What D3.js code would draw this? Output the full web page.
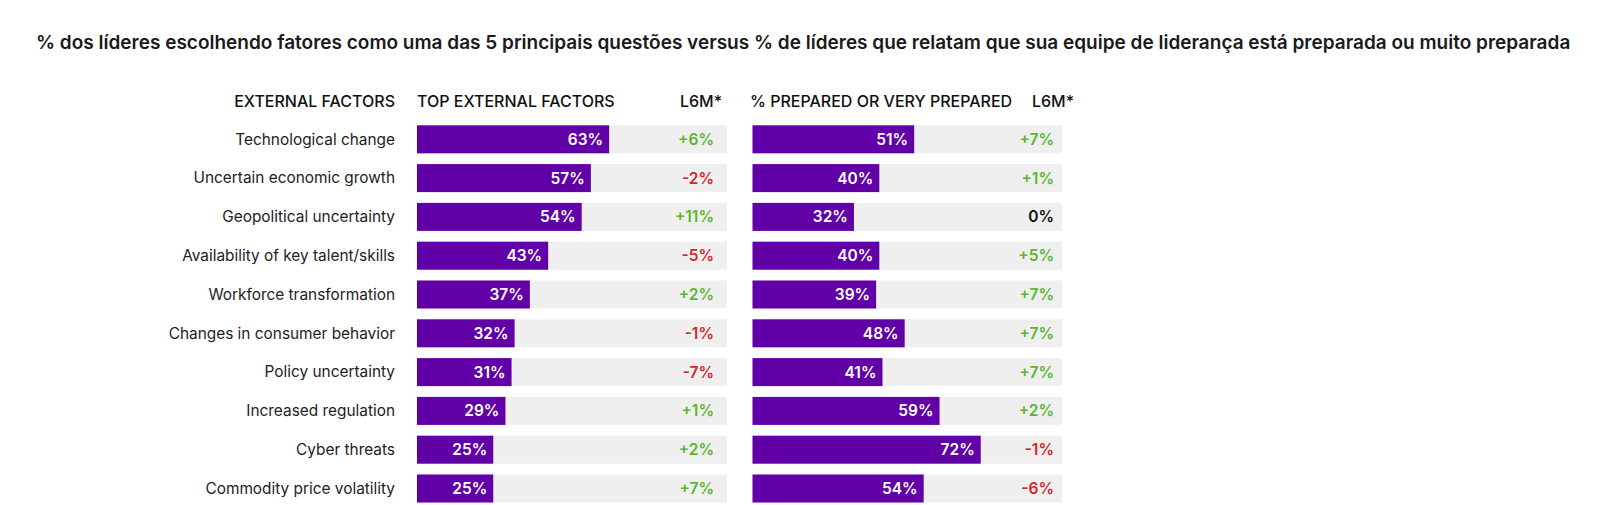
<!DOCTYPE html>
<html>
<head>
<meta charset="utf-8">
<script src="https://cdn.jsdelivr.net/npm/d3@7"></script>
<style>
  html, body { margin: 0; padding: 0; background: #fff; }
  svg { display: block; font-family: Inter, "Noto Sans", sans-serif; }
</style>
</head>
<body>
<svg width="1600" height="505"></svg>
<script>
const title = '% dos líderes escolhendo fatores como uma das 5 principais questões versus % de líderes que relatam que sua equipe de liderança está preparada ou muito preparada';
const factors = ['Technological change', 'Uncertain economic growth', 'Geopolitical uncertainty',
    'Availability of key talent/skills', 'Workforce transformation', 'Changes in consumer behavior',
    'Policy uncertainty', 'Increased regulation', 'Cyber threats', 'Commodity price volatility'];
const topPct = [63, 57, 54, 43, 37, 32, 31, 29, 25, 25];
const topL6M = [6, -2, 11, -5, 2, -1, -7, 1, 2, 7];
const prepPct = [51, 40, 32, 40, 39, 48, 41, 59, 72, 54];
const prepL6M = [7, 1, 0, 5, 7, 7, 7, 2, -1, -6];
const headers = ['EXTERNAL FACTORS', 'TOP EXTERNAL FACTORS', 'L6M*', '% PREPARED OR VERY PREPARED', 'L6M*'];

const purple = '#6200a8';
const track = '#efefef';
const green = '#5cb531';
const red = '#d7262b';

const svg = d3.select('svg');

const y = d3.scaleBand()
    .domain(factors)
    .range([114.5, 513.3])
    .padding(0.278);

// two panels, each with its own scale
const panels = [
    { pct: topPct, l6m: topL6M, x: d3.scaleLinear().domain([0, 100]).range([417, 722]), trackEnd: 727, l6mX: 714, headX: 417, headEnd: 722 },
    { pct: prepPct, l6m: prepL6M, x: d3.scaleLinear().domain([0, 100]).range([752.5, 1069.5]), trackEnd: 1062, l6mX: 1054, headX: 750, headEnd: 1074 }
];

// title
svg.append('text')
    .attr('x', 36)
    .attr('y', 49)
    .attr('font-size', 19)
    .attr('font-weight', 600)
    .attr('fill', '#1a1a1a')
    .text(title);

// column headers
const hy = 107;
const head = svg.append('g')
    .attr('font-size', 16)
    .attr('font-weight', 500)
    .attr('fill', '#111');
head.append('text').attr('x', 395).attr('y', hy).attr('text-anchor', 'end').text(headers[0]);
panels.forEach((p, i) => {
    head.append('text').attr('x', p.headX).attr('y', hy).text(headers[1 + i * 2]);
    head.append('text').attr('x', p.headEnd).attr('y', hy).attr('text-anchor', 'end').text(headers[2 + i * 2]);
});

// row labels
svg.append('g')
    .selectAll('text')
    .data(factors)
    .join('text')
    .attr('x', 395)
    .attr('y', (d) => y(d) + y.bandwidth() / 2)
    .attr('dy', '0.35em')
    .attr('text-anchor', 'end')
    .attr('font-size', 15.4)
    .attr('fill', '#222')
    .text((d) => d);

const fmtChange = (v) => (v > 0 ? '+' : '') + v + '%';
const changeColor = (v) => v > 0 ? green : (v < 0 ? red : '#111');

panels.forEach((p) => {
    const g = svg.append('g');
    const rows = factors.map((f, i) => ({ f: f, pct: p.pct[i], l6m: p.l6m[i] }));

    // background track
    g.selectAll('.track')
        .data(rows)
        .join('rect')
        .attr('class', 'track')
        .attr('x', p.x(0))
        .attr('y', (d) => y(d.f))
        .attr('width', p.trackEnd - p.x(0))
        .attr('height', y.bandwidth())
        .attr('fill', track);

    // value bar
    g.selectAll('.bar')
        .data(rows)
        .join('rect')
        .attr('class', 'bar')
        .attr('x', p.x(0))
        .attr('y', (d) => y(d.f))
        .attr('width', (d) => p.x(d.pct) - p.x(0))
        .attr('height', y.bandwidth())
        .attr('fill', purple);

    g.selectAll('.val')
        .data(rows)
        .join('text')
        .attr('class', 'val')
        .attr('x', (d) => p.x(d.pct) - 6)
        .attr('y', (d) => y(d.f) + y.bandwidth() / 2)
        .attr('dy', '0.36em')
        .attr('text-anchor', 'end')
        .attr('font-size', 15.5)
        .attr('font-weight', 600)
        .attr('fill', '#fff')
        .text((d) => d.pct + '%');

    g.selectAll('.chg')
        .data(rows)
        .join('text')
        .attr('class', 'chg')
        .attr('x', p.l6mX)
        .attr('y', (d) => y(d.f) + y.bandwidth() / 2)
        .attr('dy', '0.36em')
        .attr('text-anchor', 'end')
        .attr('font-size', 15.5)
        .attr('font-weight', 600)
        .attr('fill', (d) => changeColor(d.l6m))
        .text((d) => fmtChange(d.l6m));
});
</script>
</body>
</html>
